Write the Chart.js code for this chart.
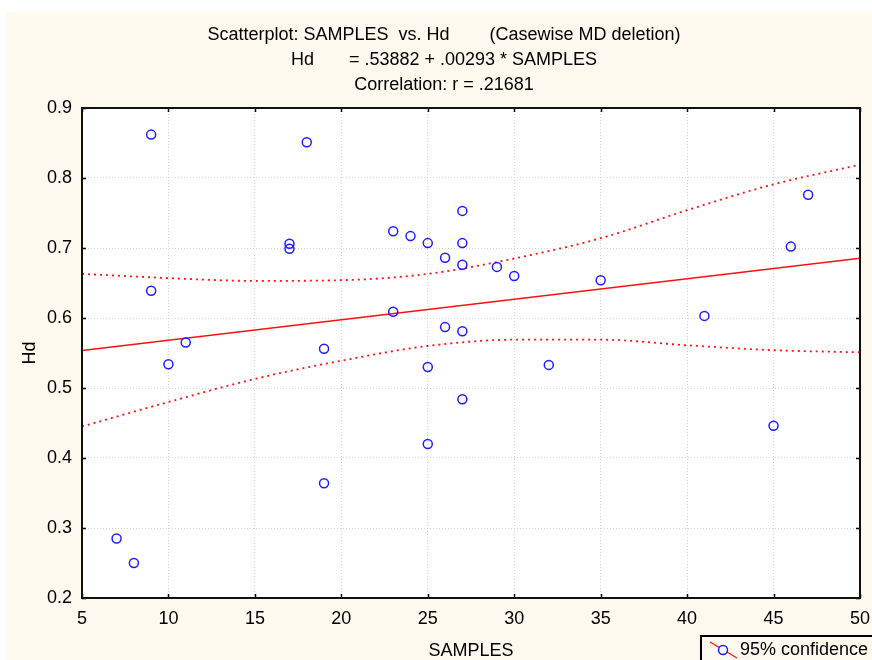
<!DOCTYPE html>
<html><head><meta charset="utf-8">
<script src="https://cdn.jsdelivr.net/npm/chart.js@4/dist/chart.umd.min.js"></script>
<style>html,body{margin:0;padding:0;background:#fff;}#wrap{width:872px;height:660px;position:relative;}</style>
</head><body><div id="wrap"><canvas id="c" width="872" height="660"></canvas></div>
<script>
const titleLines = ['Scatterplot: SAMPLES  vs. Hd        (Casewise MD deletion)', 'Hd       = .53882 + .00293 * SAMPLES', 'Correlation: r = .21681'];
const xLabel = 'SAMPLES';
const yLabel = 'Hd';
const legendLabel = '95% confidence';
const xTicks = [5, 10, 15, 20, 25, 30, 35, 40, 45, 50];
const yTicks = [0.2, 0.3, 0.4, 0.5, 0.6, 0.7, 0.8, 0.9];
const samples = [9, 18, 17, 17, 9, 11, 10, 19, 19, 7, 8, 23, 24, 25, 27, 27, 26, 27, 29, 30, 23, 26, 27, 25, 27, 25, 32, 35, 41, 45, 46, 47];
const hd = [0.862, 0.851, 0.706, 0.699, 0.639, 0.565, 0.534, 0.556, 0.364, 0.285, 0.250, 0.724, 0.717, 0.707, 0.753, 0.707, 0.686, 0.676, 0.673, 0.660, 0.609, 0.587, 0.581, 0.530, 0.484, 0.420, 0.533, 0.654, 0.603, 0.446, 0.702, 0.776];
const fitX = [5, 50];
const fitY = [0.5535, 0.6853];
const bandX = [5, 10, 15, 20, 25, 30, 35, 40, 45, 50];
const bandUpper = [0.663, 0.657, 0.653, 0.654, 0.663, 0.685, 0.714, 0.754, 0.791, 0.819];
const bandLower = [0.445, 0.480, 0.513, 0.539, 0.560, 0.569, 0.569, 0.561, 0.554, 0.551];

const FONT = "'Liberation Sans', Arial, sans-serif";
const FS = 18;
const CREAM = '#fdf9ee';
const RED = '#ff1010';
const BLUE = '#1c1cff';
const PAD_L = 28, PAD_R = 12;

const pts = (xs, ys) => xs.map((x, i) => ({x: x, y: ys[i]}));

const bgPlugin = {
  id: 'bg',
  beforeDraw(chart) {
    const ctx = chart.ctx, a = chart.chartArea;
    ctx.save();
    ctx.fillStyle = '#ffffff';
    ctx.fillRect(0, 0, chart.width, chart.height);
    ctx.fillStyle = CREAM;
    ctx.fillRect(7, 12, chart.width - 7, chart.height - 12);
    ctx.fillStyle = '#ffffff';
    ctx.fillRect(a.left, a.top, a.right - a.left, a.bottom - a.top);
    ctx.restore();
  },
  afterDraw(chart) {
    const ctx = chart.ctx, a = chart.chartArea;
    const xs = chart.scales.x, ys = chart.scales.y;
    ctx.save();
    ctx.strokeStyle = '#000';
    ctx.lineWidth = 1.5;
    ctx.beginPath();
    xTicks.forEach(v => {
      const px = Math.round(xs.getPixelForValue(v)) + 0.5;
      ctx.moveTo(px, a.bottom); ctx.lineTo(px, a.bottom - 4);
      ctx.moveTo(px, a.top); ctx.lineTo(px, a.top + 4);
    });
    yTicks.forEach(v => {
      const py = Math.round(ys.getPixelForValue(v)) + 0.5;
      ctx.moveTo(a.left, py); ctx.lineTo(a.left + 4, py);
      ctx.moveTo(a.right, py); ctx.lineTo(a.right - 4, py);
    });
    ctx.stroke();
    ctx.lineWidth = 2;
    ctx.strokeStyle = '#111';
    ctx.strokeRect(a.left, a.top, a.right - a.left, a.bottom - a.top);
    // legend box
    const lx = 700, ly = 635;
    ctx.fillStyle = CREAM;
    ctx.fillRect(lx, ly, chart.width - lx + 5, chart.height - ly + 5);
    ctx.strokeStyle = '#000';
    ctx.lineWidth = 2;
    ctx.strokeRect(lx + 1, ly + 1, chart.width - lx + 10, chart.height - ly + 10);
    ctx.strokeStyle = RED;
    ctx.lineWidth = 1.3;
    ctx.beginPath();
    ctx.moveTo(710, 642); ctx.lineTo(737, 658);
    ctx.stroke();
    ctx.strokeStyle = BLUE;
    ctx.lineWidth = 1.5;
    ctx.fillStyle = '#ffffff';
    ctx.beginPath();
    ctx.arc(723, 650, 4.5, 0, Math.PI * 2);
    ctx.fill();
    ctx.stroke();
    ctx.fillStyle = '#000';
    ctx.font = FS + 'px ' + FONT;
    ctx.textBaseline = 'middle';
    ctx.textAlign = 'left';
    ctx.fillText(legendLabel, 740, 650);
    ctx.restore();
  }
};

new Chart(document.getElementById('c'), {
  type: 'scatter',
  data: {
    datasets: [
      { data: pts(samples, hd), pointStyle: 'circle', pointRadius: 4.5, pointHoverRadius: 4.5,
        borderColor: BLUE, backgroundColor: 'rgba(0,0,0,0)', pointBorderWidth: 1.5, showLine: false },
      { data: pts(fitX, fitY), showLine: true, pointRadius: 0, borderColor: RED, borderWidth: 1.5 },
      { data: pts(bandX, bandUpper), showLine: true, pointRadius: 0, borderColor: RED, borderWidth: 1.8,
        borderDash: [2, 4], cubicInterpolationMode: 'monotone' },
      { data: pts(bandX, bandLower), showLine: true, pointRadius: 0, borderColor: RED, borderWidth: 1.8,
        borderDash: [2, 4], cubicInterpolationMode: 'monotone' }
    ]
  },
  options: {
    responsive: false,
    animation: false,
    events: [],
    layout: { padding: { left: PAD_L, right: PAD_R, top: 0, bottom: 0 } },
    plugins: {
      legend: { display: false },
      tooltip: { enabled: false },
      title: {
        display: true, text: titleLines, color: '#000',
        font: { family: FONT, size: FS, weight: 'normal', lineHeight: 25 / FS },
        padding: { top: 22.5, bottom: 10.5 }
      }
    },
    scales: {
      x: {
        type: 'linear', min: 5, max: 50,
        afterBuildTicks: s => { s.ticks = xTicks.map(v => ({value: v})); },
        afterFit: s => { s.height = 62; s.paddingRight = 0; s.paddingLeft = 0; },
        ticks: { color: '#000', font: { family: FONT, size: FS }, padding: 10, maxRotation: 0,
                 callback: v => String(v) },
        grid: { color: '#d4d4d4', lineWidth: 1, drawTicks: false },
        border: { display: false, dash: [1, 2] },
        title: { display: true, text: xLabel, color: '#000', font: { family: FONT, size: FS }, padding: { top: 0, bottom: -1.5 } }
      },
      y: {
        type: 'linear', min: 0.2, max: 0.9,
        afterBuildTicks: s => { s.ticks = yTicks.map(v => ({value: v})); },
        afterFit: s => { s.width = 82 - PAD_L; },
        ticks: { color: '#000', font: { family: FONT, size: FS }, padding: 10,
                 callback: v => Number(v).toFixed(1) },
        grid: { color: '#d4d4d4', lineWidth: 1, drawTicks: false },
        border: { display: false, dash: [1, 2] },
        title: { display: true, text: yLabel, color: '#000', font: { family: FONT, size: FS }, padding: { top: 19 - PAD_L, bottom: 0 } }
      }
    }
  },
  plugins: [bgPlugin]
});
</script>
</body></html>
